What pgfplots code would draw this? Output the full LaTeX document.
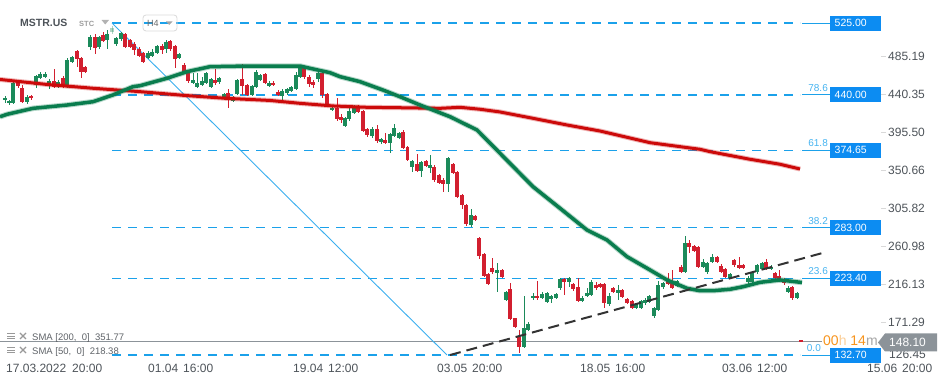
\documentclass[border=0pt]{standalone}
\usepackage{pgfplots}
\pgfplotsset{compat=1.18}
\usepackage{pgfplotstable}
\usepackage{fontspec}
\setmainfont{Liberation Sans}
\definecolor{cg}{HTML}{1B8A5A}
\definecolor{cr}{HTML}{D21F2F}
\definecolor{smag}{HTML}{0A7D4E}
\definecolor{smar}{HTML}{CC0A0A}
\definecolor{fib}{HTML}{1BA1EA}
\definecolor{fibbox}{HTML}{0C8CF2}
\definecolor{fibtxt}{HTML}{45B3F0}
\definecolor{diag}{HTML}{3AAFEF}
\definecolor{txt}{HTML}{4D5359}
\definecolor{cur}{HTML}{8C9399}
\definecolor{orng}{HTML}{F7941D}
\definecolor{leg}{HTML}{5F6368}

\pgfplotstableread{
x o h l c
5 433.7 438.2 430.1 436.8
9 430.1 434.0 428.7 432.9
13 430.1 455.3 429.3 453.8
27 431.3 439.4 429.9 437.9
36 451.8 463.6 447.9 462.4
40 460.4 466.8 458.9 464.4
45 461.6 467.5 460.0 464.8
49 450.9 458.9 447.0 456.5
58 450.6 457.1 448.8 455.7
67 449.8 483.1 448.2 481.7
72 479.3 486.0 477.8 484.5
90 497.0 510.3 493.1 508.8
99 496.3 509.7 494.3 508.1
107 504.9 516.8 494.0 511.7
116 500.2 508.5 498.4 507.0
121 506.1 514.4 503.8 512.9
148 484.0 491.4 482.5 489.9
152 486.4 494.3 484.9 491.1
157 489.9 499.0 488.4 497.9
166 494.0 504.4 489.9 502.9
179 483.3 489.6 481.9 488.4
193 453.8 466.3 452.4 457.7
197 449.8 465.6 448.2 454.5
202 451.8 461.6 450.6 456.8
206 453.8 467.7 452.4 466.3
211 449.8 460.0 448.2 458.5
219 455.0 461.2 453.5 459.7
224 436.1 442.3 434.6 440.8
233 433.2 438.8 431.7 437.2
237 441.1 458.9 439.4 457.7
252 440.0 451.8 438.2 450.6
256 449.8 468.9 448.2 467.5
260 457.7 464.8 455.9 463.6
269 450.9 455.9 449.4 454.5
282 438.8 446.5 432.0 445.0
287 442.0 448.2 440.5 446.7
291 445.0 450.6 443.5 449.1
296 446.7 467.5 445.3 463.6
300 461.6 473.0 460.0 471.5
318 458.5 467.7 455.7 466.3
332 422.2 426.4 420.5 424.9
345 403.3 414.0 401.6 412.4
349 411.2 424.2 409.8 421.0
354 419.0 428.1 417.5 424.2
372 391.5 402.5 389.7 399.8
381 384.1 389.1 382.6 388.0
390 382.9 395.1 371.1 393.9
394 391.5 405.7 390.3 400.6
399 388.8 396.8 387.4 395.4
412 355.2 363.1 349.3 362.0
421 350.5 362.0 343.4 360.4
430 354.1 369.1 348.1 357.2
448 334.8 366.7 325.7 365.2
471 286.3 304.9 283.6 298.2
497 230.0 241.1 207.5 233.2
506 197.7 208.9 196.5 207.5
524 142.5 202.8 141.0 164.3
528 162.3 172.1 160.5 169.4
533 199.7 205.6 197.7 202.8
542 200.4 207.2 198.9 204.8
547 195.7 207.2 194.2 205.6
551 198.9 204.2 193.8 202.8
556 200.4 206.4 198.9 204.8
560 211.5 223.7 210.1 222.5
569 219.3 224.9 213.4 223.4
582 196.9 201.9 195.4 200.4
587 202.8 211.5 201.3 205.6
591 203.6 221.4 201.9 219.3
609 192.6 206.0 191.2 202.8
618 206.4 215.4 197.7 209.5
636 187.9 194.2 186.5 192.6
641 188.6 198.3 187.1 196.5
645 193.8 199.5 191.8 197.7
649 195.0 204.2 193.6 202.8
654 179.2 189.5 176.8 187.9
658 185.9 220.2 184.7 215.4
663 212.7 219.0 211.3 217.5
677 214.3 221.4 212.5 219.6
685 231.2 273.3 229.6 264.7
703 237.1 246.2 235.5 242.3
707 230.5 242.6 229.0 241.1
712 242.3 251.7 240.9 248.5
730 224.1 229.6 222.5 228.1
748 218.6 225.5 217.2 224.1
752 219.3 230.8 217.8 229.3
757 230.5 240.3 229.0 239.1
762 234.4 242.6 232.6 241.1
771 234.0 238.5 232.6 237.1
788 207.5 213.7 206.0 212.3
797 200.4 207.2 198.9 205.6
}\gtab

\pgfplotstableread{
x o h l c
112 514.4 521.5 512.0 519.1
}\ftab

\pgfplotstableread{
x o h l c
18 455.0 456.5 448.2 450.9
22 448.6 451.8 430.5 431.3
31 439.1 440.5 434.6 436.1
54 456.5 470.7 448.2 449.8
63 460.4 462.4 448.2 449.8
77 491.9 493.1 472.7 482.1
81 483.3 485.2 459.7 467.5
85 473.0 474.2 465.9 467.5
95 508.1 511.7 488.0 495.1
103 510.8 514.0 502.6 504.1
125 511.7 513.2 495.5 497.0
130 504.9 506.7 495.5 497.0
134 500.2 502.0 487.2 493.1
139 494.3 496.1 484.3 486.0
143 489.2 490.8 477.8 479.3
162 497.9 499.9 488.0 493.1
170 503.8 504.9 492.5 494.0
175 497.9 499.0 471.5 482.1
184 475.4 477.2 465.4 466.8
188 465.6 467.5 453.8 456.5
215 457.7 470.3 451.8 453.8
228 442.0 446.7 424.2 434.0
242 458.5 476.2 440.0 450.6
247 451.8 453.0 438.2 440.0
265 464.8 465.9 452.4 453.8
273 454.5 455.9 450.0 451.8
278 443.9 445.3 438.2 440.0
304 473.4 474.8 459.4 460.9
309 461.6 463.0 449.8 453.0
313 455.7 457.1 447.9 451.8
322 465.6 467.1 436.1 440.0
327 441.1 442.3 426.4 428.1
337 424.9 436.1 409.8 411.2
341 414.3 417.5 407.2 410.4
358 424.2 428.1 418.7 420.2
363 421.0 422.2 396.2 397.8
367 399.8 401.0 390.9 392.3
377 399.8 404.5 383.8 385.6
385 386.8 394.7 381.5 382.9
403 396.6 398.0 375.6 377.0
407.5 378.2 379.7 361.4 363.1
417 358.4 370.2 349.0 350.5
426 362.0 363.1 354.3 356.1
434 355.2 356.7 337.7 339.5
439 345.4 346.6 334.8 336.3
443 339.5 341.3 325.7 334.8
453 358.4 359.6 346.6 348.1
457 349.3 350.7 317.9 319.8
462 321.8 323.0 304.9 310.0
466 310.0 311.2 285.2 287.5
475 297.0 298.2 290.5 292.3
479 270.6 271.6 245.8 249.7
484 251.7 252.7 224.9 226.4
488 228.4 229.6 215.4 216.6
492 235.9 247.7 229.0 230.5
502 233.2 234.4 224.3 225.3
510 210.4 217.5 173.5 174.9
515 176.1 177.0 165.0 166.2
519 153.7 162.3 135.5 141.8
537 202.8 220.2 198.3 199.7
564 222.5 223.7 203.6 219.3
573 216.3 217.8 208.9 210.4
578 212.7 224.1 195.4 196.9
596 215.4 218.6 210.1 211.5
600 216.3 217.8 211.9 213.4
604 216.3 217.8 188.6 193.8
613 211.5 213.1 206.0 207.5
622 209.5 210.7 200.1 201.6
627 198.9 200.1 193.0 194.5
632 196.5 198.3 186.5 187.9
668 222.5 229.3 214.9 216.3
672 220.2 233.2 210.7 212.3
681 237.1 238.5 229.6 231.2
689 264.7 268.6 252.9 260.7
694 261.5 262.7 253.9 255.6
698 260.7 262.1 235.5 237.1
717 248.2 249.7 240.9 242.3
721 238.3 239.7 229.6 231.2
725 234.4 235.5 223.7 225.3
734 244.6 246.2 237.3 239.1
739 239.1 248.2 234.4 235.9
743 239.1 240.3 234.4 235.9
766 242.3 246.2 233.2 235.2
775 229.3 230.8 221.9 223.4
779 226.4 233.2 219.6 221.4
784 222.5 223.7 216.0 217.5
792 212.7 214.3 197.7 200.4
801 150.0 150.5 148.1 148.1
}\rtab

\pgfplotstableread{
x y
0 414.3
7 417.1
33 424.2
67 428.1
93 432.0
113 440.0
133 449.8
140 450.9
167 459.7
187 467.5
210 473.4
250 474.2
300 474.2
310 471.5
330 466.3
340 461.6
360 455.7
383 445.8
400 437.9
420 428.1
450 414.3
477 398.6
500 371.1
533 331.6
560 306.1
587 280.4
607 268.6
627 248.9
650 233.2
667 221.4
687 211.5
700 208.7
713 208.7
730 210.4
743 213.4
760 218.6
780 221.4
802 218.4
}\smafifty

\pgfplotstableread{
x y
0 458.3
47 452.4
93 447.9
140 443.9
185 439.4
225 436.1
270 433.5
300 430.1
333 427.0
367 425.4
400 424.9
440 424.2
460 425.4
480 423.1
500 419.9
533 412.4
567 404.5
600 397.4
650 383.6
680 378.9
700 375.8
710 373.0
750 364.0
780 358.1
800 352.5
}\smatwo

\newcommand{\candles}[3]{%
  \addplot[draw=none, mark=none, opacity=#3, error bars/.cd, y dir=both, y explicit, error mark=none,
    error bar style={draw=#2, line width=1pt}]
    table[x=x, y expr={(\thisrow{h}+\thisrow{l})/2}, y error expr={(\thisrow{h}-\thisrow{l})/2}] {#1};
  \addplot[draw=none, mark=none, opacity=#3, error bars/.cd, y dir=both, y explicit, error mark=none,
    error bar style={draw=#2, line width=3.3pt}]
    table[x=x, y expr={(\thisrow{o}+\thisrow{c})/2}, y error expr={max(abs(\thisrow{c}-\thisrow{o})/2,0.7)}] {#1};
}
\newcommand{\fibbox}[2]{\node[anchor=west, fill=fibbox, text=white, font=\fontsize{10.5}{12}\selectfont, inner xsep=4.5pt, inner ysep=0pt, minimum height=15pt, text width=42pt] at (axis cs:830,#1) {#2};}
\newcommand{\fiblab}[3][828]{\node[anchor=south east, text=fibtxt, font=\fontsize{10}{12}\selectfont, inner sep=0pt, yshift=3.2pt] at (axis cs:#1,#2) {#3};}

\begin{document}
\begin{tikzpicture}
\begin{axis}[
  at={(0pt,24pt)}, anchor=south west,
  scale only axis, width=881pt, height=361pt,
  xmin=0, xmax=881, ymin=125.64, ymax=552.2,
  clip=false,
  axis x line*=bottom, axis y line*=right,
  axis line style={draw=none},
  tick align=outside, major tick length=5pt,
  ytick={485.19,440.35,395.50,350.66,305.82,260.98,216.13,171.29},
  yticklabels={485.19,440.35,395.50,350.66,305.82,260.98,216.13,171.29},
  y tick style={draw=black!15, line width=0.8pt},
  yticklabel style={font=\fontsize{12}{14}\selectfont, text=txt, inner xsep=2pt},
  xtick={6,148,293,437,580,722,867},
  xticklabels={17.03.2022\hspace{6pt}20:00, 01.04\hspace{5pt}16:00, 19.04\hspace{5pt}12:00, 03.05\hspace{5pt}20:00, 18.05\hspace{5pt}16:00, 03.06\hspace{5pt}12:00, 15.06\hspace{5pt}20:00},
  x tick style={draw=none},
  xticklabel style={font=\fontsize{12}{14}\selectfont, text=txt, anchor=north west, inner sep=0pt, yshift=2.5pt},
]
% Fibonacci levels
\addplot[fib, line width=1.2pt, dash pattern=on 8.7pt off 7.3pt] coordinates {(112,525) (800,525)};
\addplot[fib, line width=1.2pt, dash pattern=on 8.7pt off 7.3pt] coordinates {(112,440) (800,440)};
\addplot[fib, line width=1.2pt, dash pattern=on 8.7pt off 7.3pt] coordinates {(112,374.65) (800,374.65)};
\addplot[fib, line width=1.2pt, dash pattern=on 8.7pt off 7.3pt] coordinates {(112,283) (800,283)};
\addplot[fib, line width=1.2pt, dash pattern=on 8.7pt off 7.3pt] coordinates {(112,223.4) (800,223.4)};
\addplot[fib, line width=1.2pt, dash pattern=on 8.7pt off 7.3pt] coordinates {(112,132.7) (800,132.7)};
\addplot[fib, line width=1pt] coordinates {(802,525) (830,525)};
\addplot[fib, line width=1pt] coordinates {(802,440) (830,440)};
\addplot[fib, line width=1pt] coordinates {(802,374.65) (830,374.65)};
\addplot[fib, line width=1pt] coordinates {(802,283) (830,283)};
\addplot[fib, line width=1pt] coordinates {(802,223.4) (830,223.4)};
\addplot[fib, line width=1pt] coordinates {(802,132.7) (830,132.7)};
% current price
\addplot[cur, line width=1pt] coordinates {(0,148.1) (822,148.1)};
% diagonal
\addplot[diag, line width=0.9pt] coordinates {(112,525) (447,132.7)};
% candles
\candles{\gtab}{cg}{1}
\candles{\ftab}{cg}{0.35}
\candles{\rtab}{cr}{1}
% SMA
\addplot[smar, opacity=0.3, line width=5pt, line join=round] table[x=x,y=y] {\smatwo};
\addplot[smar, line width=3pt, line join=round] table[x=x,y=y] {\smatwo};
\addplot[smag, opacity=0.3, line width=5.5pt, line join=round] table[x=x,y=y] {\smafifty};
\addplot[smag, line width=3.5pt, line join=round] table[x=x,y=y] {\smafifty};
% trend line
\addplot[black!80, line width=2pt, dash pattern=on 11pt off 6pt] coordinates {(450,132.7) (826,254.4)};
% fib boxes
\fibbox{525}{525.00}
\fibbox{440}{440.00}
\fibbox{374.65}{374.65}
\fibbox{283}{283.00}
\fibbox{223.4}{223.40}
\fibbox{132.7}{132.70}
\fiblab{440}{78.6}
\fiblab{374.65}{61.8}
\fiblab{283}{38.2}
\fiblab{223.4}{23.6}
\fiblab[821]{132.7}{0.0}
\end{axis}
\begin{scope}[x=1pt, y=-1pt, yshift=385pt]
  \node[anchor=west, font=\bfseries\fontsize{10.5}{12}\selectfont, text=txt, inner sep=0pt] at (20,23) {MSTR.US};
  \node[anchor=west, font=\bfseries\fontsize{7.5}{9}\selectfont, text=black!38, inner sep=0pt] at (79,23.5) {STC};
  \fill[black!30] (101.5,20) -- (109,20) -- (105.25,24.5) -- cycle;
  \draw[black!15, rounded corners=3pt, line width=0.8pt] (143,15) rectangle (177,31);
  \node[anchor=west, font=\fontsize{9}{10}\selectfont, text=black!58, inner sep=0pt] at (147,23) {H4};
  \fill[black!35] (166,21.5) -- (172.5,21.5) -- (169.25,25) -- cycle;
  % legend
  \draw[black!40, line width=0.9pt] (7,333.5) -- (15,333.5) (7,336) -- (15,336) (7,338.5) -- (15,338.5);
  \draw[black!40, line width=0.9pt] (7,347.5) -- (15,347.5) (7,350) -- (15,350) (7,352.5) -- (15,352.5);
  \draw[black!40, line width=1.3pt] (20,333) -- (26,339) (26,333) -- (20,339);
  \draw[black!40, line width=1.3pt] (20,347) -- (26,353) (26,347) -- (20,353);
  \node[anchor=west, font=\fontsize{9.5}{11}\selectfont, text=leg, inner sep=0pt] at (32,338.5) {SMA [200,\ \ 0]\ \ 351.77};
  \node[anchor=west, font=\fontsize{9.5}{11}\selectfont, text=leg, inner sep=0pt] at (32,352.5) {SMA [50,\ \ 0]\ \ 218.38};
  % bottom price label
  \node[anchor=west, font=\fontsize{12}{14}\selectfont, text=txt, inner sep=0pt] at (889,354.5) {126.45};
  \node[anchor=west, font=\fontsize{14}{16}\selectfont, inner sep=0pt] at (823,340) {\textcolor{orng}{00}\textcolor{orng!45}{h} \textcolor{orng}{14}\textcolor{black!35}{m}};
  \fill[cur] (878,342.5) -- (885,333.5) -- (937,333.5) -- (937,351.5) -- (885,351.5) -- cycle;
  \node[anchor=west, font=\fontsize{12}{14}\selectfont, text=white, inner sep=0pt] at (889,342.5) {148.10};
\end{scope}
\pgfresetboundingbox
\path[use as bounding box] (0,0) rectangle (949pt,385pt);
\end{tikzpicture}
\end{document}
